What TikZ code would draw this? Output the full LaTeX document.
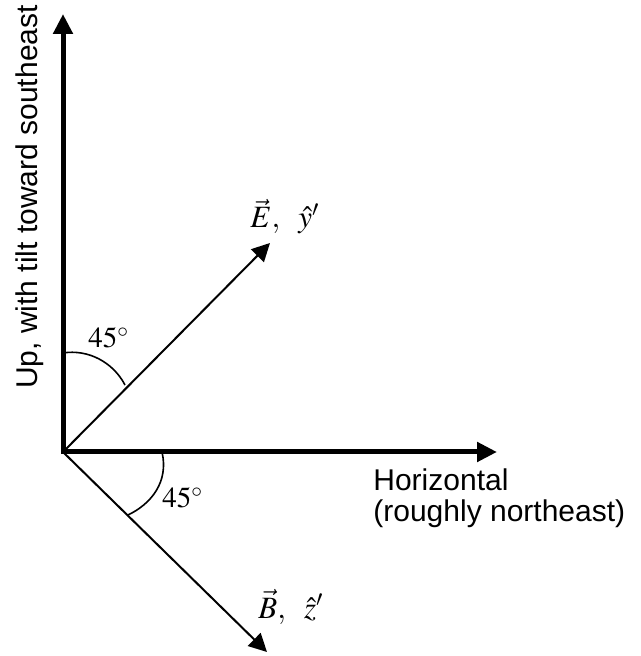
\documentclass[tikz,border=0pt]{standalone}
\usepackage{mathptmx}
\usepackage{fontspec}
\setmainfont{Liberation Serif}
\setsansfont{Liberation Sans}
\usetikzlibrary{arrows.meta, positioning, calc}
\tikzset{
  every picture/.style={x=0.5pt, y=0.5pt},
  axis/.style={{Triangle[length=10pt, width=9.5pt]}-{Triangle[length=10pt, width=9.5pt]}, line width=2.5pt, line join=miter},
  vec/.style={-{Triangle[length=9pt, width=9pt]}, line width=1pt},
  angle/.style={line width=0.8pt},
  word/.style={font=\sffamily\fontsize{15}{15.5}\selectfont, inner sep=0pt},
  sym/.style={font=\fontsize{14.5}{17}\selectfont, inner sep=0pt},
  vlabel/.style={font=\fontsize{15.5}{18}\selectfont, inner sep=0pt, anchor=base west},
}
\begin{document}
\begin{tikzpicture}
  \useasboundingbox (-63,-204) rectangle (577,452);
  \coordinate (O) at (0,0);
  \coordinate (up) at (0,438);
  \coordinate (hor) at (434,0);
  \coordinate (E) at (207,209);
  \coordinate (B) at (204,-200);
  \draw[axis] (up) -- (O) -- (hor);
  \draw[vec] (O) -- (E); \draw[vec] (O) -- (B);
  \draw[angle] (0,99) .. controls (25,103) and (50,90) .. (62,67);
  \draw[angle] (99,0) .. controls (106,-30) and (88,-52) .. (65,-63);
  \node[sym, anchor=base west] (a1) at (25,104) {$45^{\circ}$};
  \node[sym, anchor=base west] (a2) at (99,-56) {$45^{\circ}$};
  \node[vlabel] (lE) at (187,224) {$\vec{E},\;\ \hat{y}'$};
  \node[vlabel] (lB) at (195,-166) {$\vec{B},\;\ \hat{z}'$};
  \node[word, rotate=90, anchor=base] (lUp) at (-26,255) {Up, with tilt toward southeast};
  \node[word, align=left, anchor=north west] (lHor) at (310,-16) {Horizontal\\(roughly northeast)};
\end{tikzpicture}
\end{document}
